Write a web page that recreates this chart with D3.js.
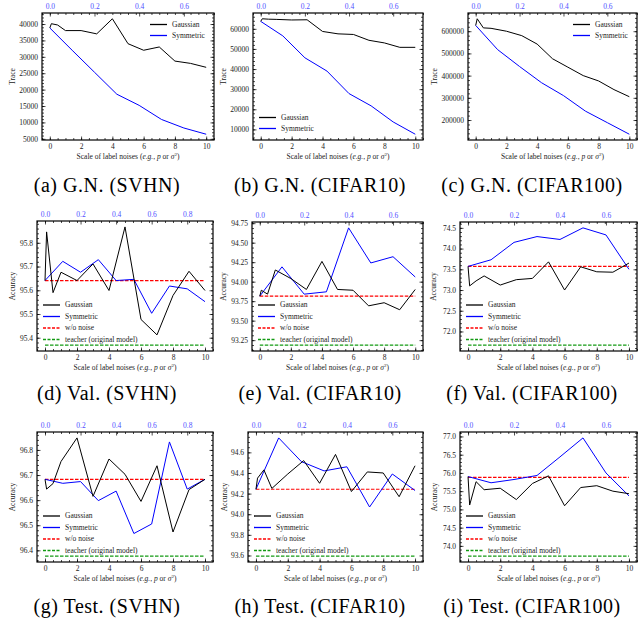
<!DOCTYPE html>
<html>
<head>
<meta charset="utf-8">
<script src="https://cdn.jsdelivr.net/npm/d3@7"></script>
<style>
body { margin: 0; background: #fff; }
svg text { font-family: "Liberation Serif", "DejaVu Serif", serif; }
</style>
</head>
<body>
<svg id="chart" width="638" height="623"></svg>
<script>
// noise scales: gaussian uses sigma^2 (bottom axis), symmetric uses p (top axis)
var gaussX = [0, 0.1, 0.5, 1, 2, 3, 4, 5, 6, 7, 8, 9, 10];
var symP7 = [0, 0.1, 0.2, 0.3, 0.4, 0.5, 0.6, 0.7];
var symP9 = [0, 0.1, 0.2, 0.3, 0.4, 0.5, 0.6, 0.7, 0.8, 0.9];

// (a)-(c) trace
var gaussA = [38800, 40100, 39700, 38000, 38000, 37000, 41600, 34000, 32000, 33000, 28700, 28000, 26800];
var symA = [38800, 32000, 25300, 18600, 15200, 10900, 8300, 6400];
var gaussB = [63700, 65000, 64800, 64700, 64400, 64500, 58700, 57500, 57200, 54300, 53000, 50800, 50800];
var symB = [63700, 56500, 45600, 39000, 27800, 21700, 13700, 7600];
var gaussC = [626000, 656000, 615000, 613000, 600000, 580000, 542000, 476000, 438000, 400000, 376000, 337000, 305000];
var symC = [626000, 517000, 441000, 368000, 310000, 240000, 188000, 136000];

// (d)-(f) validation accuracy
var gaussD = [95.641, 95.846, 95.59, 95.676, 95.641, 95.711, 95.599, 95.867, 95.477, 95.412, 95.578, 95.68, 95.599];
var symD = [95.641, 95.722, 95.676, 95.729, 95.641, 95.646, 95.503, 95.618, 95.606, 95.552];
var woD = 95.641, teacherD = 95.369;
var gaussE = [93.814, 93.89, 93.84, 94.15, 94.04, 93.90, 94.26, 93.90, 93.89, 93.69, 93.73, 93.64, 93.90];
var symE = [93.814, 94.19, 93.84, 93.87, 94.69, 94.24, 94.32, 94.06];
var woE = 93.814, teacherE = 93.186;
var gaussF = [73.57, 73.10, 73.22, 73.34, 73.12, 73.25, 73.28, 73.68, 73.0, 73.56, 73.44, 73.43, 73.65];
var symF = [73.57, 73.73, 74.15, 74.29, 74.22, 74.5, 74.33, 73.5];
var woF = 73.57, teacherF = 71.67;

// (g)-(i) test accuracy
var gaussG = [96.683, 96.644, 96.666, 96.754, 96.848, 96.615, 96.764, 96.703, 96.595, 96.737, 96.473, 96.642, 96.683];
var symG = [96.683, 96.667, 96.674, 96.598, 96.636, 96.467, 96.505, 96.832, 96.644, 96.683];
var woG = 96.683, teacherG = 96.377;
var gaussH = [94.242, 94.35, 94.43, 94.25, 94.39, 94.52, 94.30, 94.58, 94.22, 94.41, 94.40, 94.17, 94.47];
var symH = [94.242, 94.74, 94.51, 94.42, 94.46, 94.07, 94.39, 94.23];
var woH = 94.242, teacherH = 93.594;
var gaussI = [75.90, 75.12, 75.76, 75.54, 75.58, 75.27, 75.71, 75.92, 75.10, 75.60, 75.65, 75.50, 75.43];
var symI = [75.90, 75.73, 75.82, 75.93, 76.44, 76.96, 76.0, 75.37];
var woI = 75.88, teacherI = 73.72;

// tick labels
var xTicks = [0, 2, 4, 6, 8, 10];
var pTicks7 = [0, 0.2, 0.4, 0.6];
var pTicks9 = [0, 0.2, 0.4, 0.6, 0.8];
var yTicksA = [5000, 10000, 15000, 20000, 25000, 30000, 35000, 40000];
var yTicksB = [10000, 20000, 30000, 40000, 50000, 60000];
var yTicksC = [200000, 300000, 400000, 500000, 600000];
var yTicksD = [95.4, 95.5, 95.6, 95.7, 95.8];
var yTicksE = [93.25, 93.5, 93.75, 94.0, 94.25, 94.5, 94.75];
var yTicksF = [72.0, 72.5, 73.0, 73.5, 74.0, 74.5];
var yTicksG = [96.4, 96.5, 96.6, 96.7, 96.8];
var yTicksH = [93.6, 93.8, 94.0, 94.2, 94.4, 94.6];
var yTicksI = [74.0, 74.5, 75.0, 75.5, 76.0, 76.5, 77.0];

var captions = ["(a) G.N. (SVHN)", "(b) G.N. (CIFAR10)", "(c) G.N. (CIFAR100)",
                "(d) Val. (SVHN)", "(e) Val. (CIFAR10)", "(f) Val. (CIFAR100)",
                "(g) Test. (SVHN)", "(h) Test. (CIFAR10)", "(i) Test. (CIFAR100)"];

var panels = [
  {gauss: gaussA, sym: symA, p: symP7, pTicks: pTicks7, yTicks: yTicksA, fmt: "d", ylab: "Trace", minor: 1000,
   box: {l: 42, r: 214, t: 13, b: 140}, ylx: 12, leg: "ur"},
  {gauss: gaussB, sym: symB, p: symP7, pTicks: pTicks7, yTicks: yTicksB, fmt: "d", ylab: "Trace", minor: 2000,
   box: {l: 253, r: 423, t: 13, b: 140}, ylx: 223, leg: "ll"},
  {gauss: gaussC, sym: symC, p: symP7, pTicks: pTicks7, yTicks: yTicksC, fmt: "d", ylab: "Trace", minor: 20000,
   box: {l: 468, r: 637, t: 13, b: 140}, ylx: 434, leg: "ur"},
  {gauss: gaussD, sym: symD, p: symP9, pTicks: pTicks9, yTicks: yTicksD, fmt: ".1f", ylab: "Accuracy", minor: 0.02,
   wo: woD, teacher: teacherD, box: {l: 37, r: 213, t: 221, b: 351}, ylx: 12, leg: "ll"},
  {gauss: gaussE, sym: symE, p: symP7, pTicks: pTicks7, yTicks: yTicksE, fmt: ".2f", ylab: "Accuracy", minor: 0.0625,
   wo: woE, teacher: teacherE, box: {l: 252, r: 423, t: 222, b: 351}, ylx: 223, leg: "ll"},
  {gauss: gaussF, sym: symF, p: symP7, pTicks: pTicks7, yTicks: yTicksF, fmt: ".1f", ylab: "Accuracy", minor: 0.1,
   wo: woF, teacher: teacherF, box: {l: 460, r: 637, t: 222, b: 351}, ylx: 433, leg: "ll"},
  {gauss: gaussG, sym: symG, p: symP9, pTicks: pTicks9, yTicks: yTicksG, fmt: ".1f", ylab: "Accuracy", minor: 0.02,
   wo: woG, teacher: teacherG, box: {l: 37, r: 213, t: 432, b: 562}, ylx: 12, leg: "ll"},
  {gauss: gaussH, sym: symH, p: symP7, pTicks: pTicks7, yTicks: yTicksH, fmt: ".1f", ylab: "Accuracy", minor: 0.05,
   wo: woH, teacher: teacherH, box: {l: 248, r: 423, t: 432, b: 562}, ylx: 224, leg: "ll"},
  {gauss: gaussI, sym: symI, p: symP7, pTicks: pTicks7, yTicks: yTicksI, fmt: ".1f", ylab: "Accuracy", minor: 0.1,
   wo: woI, teacher: teacherI, box: {l: 460, r: 637, t: 432, b: 562}, ylx: 434, leg: "ll"}
];

var capX = [107, 320, 532];
var capY = [192, 400, 613];
var green = "#139a13";

var svg = d3.select("#chart");

function minorVals(domain, step) {
  var out = [];
  var start = Math.ceil(domain[0] / step - 1e-9);
  for (var k = start; k * step <= domain[1] + 1e-9; k++) out.push(k * step);
  return out;
}

panels.forEach(function (pn, i) {
  var bx = pn.box;
  var g = svg.append("g");

  var x = d3.scaleLinear().domain([-0.5, 10.5]).range([bx.l, bx.r]);
  var pMax = pn.p[pn.p.length - 1];
  var xp = d3.scaleLinear().domain([0, pMax]).range([x(0), x(10)]);

  var all = pn.gauss.concat(pn.sym);
  if (pn.wo !== undefined) all.push(pn.wo, pn.teacher);
  var lo = d3.min(all), hi = d3.max(all), pad = (hi - lo) * 0.05;
  var y = d3.scaleLinear().domain([lo - pad, hi + pad]).range([bx.b, bx.t]);

  // minor ticks
  var xm = minorVals(x.domain(), 0.5);
  var ym = minorVals(y.domain(), pn.minor);
  g.append("g").attr("transform", "translate(0," + bx.b + ")")
    .call(d3.axisBottom(x).tickValues(xm).tickSize(-2).tickFormat(""));
  g.append("g").attr("transform", "translate(0," + bx.t + ")")
    .call(d3.axisTop(x).tickValues(xm).tickSize(-2).tickFormat(""));
  g.append("g").attr("transform", "translate(" + bx.l + ",0)")
    .call(d3.axisLeft(y).tickValues(ym).tickSize(-2).tickFormat(""));
  g.append("g").attr("transform", "translate(" + bx.r + ",0)")
    .call(d3.axisRight(y).tickValues(ym).tickSize(-2).tickFormat(""));

  // major ticks
  g.append("g").attr("class", "ax").attr("transform", "translate(0," + bx.b + ")")
    .call(d3.axisBottom(x).tickValues(xTicks).tickSize(-3.5).tickPadding(3.5).tickFormat(d3.format("d")));
  g.append("g").attr("class", "ax top").attr("transform", "translate(0," + bx.t + ")")
    .call(d3.axisTop(xp).tickValues(pn.pTicks).tickSize(-3.5).tickPadding(4.5).tickFormat(d3.format(".1f")));
  g.append("g").attr("class", "ax").attr("transform", "translate(" + bx.l + ",0)")
    .call(d3.axisLeft(y).tickValues(pn.yTicks).tickSize(-3.5).tickPadding(4).tickFormat(d3.format(pn.fmt)));
  g.append("g").attr("transform", "translate(" + bx.r + ",0)")
    .call(d3.axisRight(y).tickValues(pn.yTicks).tickSize(-3.5).tickFormat(""));

  g.selectAll(".domain").remove();
  g.selectAll(".tick line").attr("stroke", "#000").attr("stroke-width", 0.7);
  g.selectAll(".ax text").attr("font-size", 7.5).attr("fill", "#222")
    .attr("font-family", "'Liberation Serif', 'DejaVu Serif', serif");
  g.selectAll(".top text").attr("fill", "#5050ff");

  // reference lines
  var line = d3.line().x(function (d) { return d[0]; }).y(function (d) { return d[1]; });
  if (pn.wo !== undefined) {
    g.append("path").attr("d", line([[x(0), y(pn.teacher)], [x(10), y(pn.teacher)]]))
      .attr("fill", "none").attr("stroke", green).attr("stroke-width", 1.2).attr("stroke-dasharray", "3.5,1.5");
    g.append("path").attr("d", line([[x(0), y(pn.wo)], [x(10), y(pn.wo)]]))
      .attr("fill", "none").attr("stroke", "#ff0000").attr("stroke-width", 1.2).attr("stroke-dasharray", "3.5,1.5");
  }

  // data lines
  g.append("path")
    .attr("d", line(pn.sym.map(function (v, k) { return [xp(pn.p[k]), y(v)]; })))
    .attr("fill", "none").attr("stroke", "#0000ff").attr("stroke-width", 1);
  g.append("path")
    .attr("d", line(pn.gauss.map(function (v, k) { return [x(gaussX[k]), y(v)]; })))
    .attr("fill", "none").attr("stroke", "#000").attr("stroke-width", 1);

  // frame
  g.append("rect").attr("x", bx.l).attr("y", bx.t).attr("width", bx.r - bx.l).attr("height", bx.b - bx.t)
    .attr("fill", "none").attr("stroke", "#000").attr("stroke-width", 1.2);

  // axis labels
  g.append("text").attr("x", (x(-0.5) + x(10.5)) / 2).attr("y", bx.b + 18.5)
    .attr("text-anchor", "middle").attr("font-size", 7.5).attr("fill", "#222")
    .html('Scale of label noises (<tspan font-style="italic">e.g.</tspan>, <tspan font-style="italic">p</tspan> or <tspan font-style="italic">σ</tspan><tspan font-size="5" dy="-3">2</tspan><tspan dy="3">)</tspan>');
  g.append("text").attr("transform", "translate(" + pn.ylx + "," + ((bx.t + bx.b) / 2) + ") rotate(-90)")
    .attr("text-anchor", "middle").attr("dy", "0.35em").attr("font-size", 7.5).attr("fill", "#222")
    .text(pn.ylab);

  // legend
  var items = [["Gaussian", "#000", "none"], ["Symmetric", "#0000ff", "none"]];
  if (pn.wo !== undefined) items.push(["w/o noise", "#ff0000", "3,1.5"], ["teacher (original model)", green, "3,1.5"]);
  var lx, ly0, step = items.length > 2 ? 11.5 : 11;
  if (pn.leg === "ur") { lx = bx.r - 64; ly0 = bx.t + 11.5; }
  else { lx = bx.l + 6; ly0 = bx.b - 11.5 - (items.length - 1) * step; }
  var leg = g.append("g").selectAll("g").data(items).enter().append("g")
    .attr("transform", function (d, k) { return "translate(" + lx + "," + (ly0 + k * step) + ")"; });
  leg.append("path").attr("d", "M0,0H17").attr("fill", "none")
    .style("stroke", function (d) { return d[1]; }).style("stroke-width", 1.3)
    .style("stroke-dasharray", function (d) { return d[2]; });
  leg.append("text").attr("x", 22).attr("dy", "0.33em").attr("font-size", 7.5).attr("fill", "#222")
    .text(function (d) { return d[0]; });

  // caption
  svg.append("text").attr("x", capX[i % 3]).attr("y", capY[Math.floor(i / 3)])
    .attr("text-anchor", "middle").attr("font-size", 20).attr("letter-spacing", 0.5).attr("fill", "#000")
    .text(captions[i]);
});
</script>
</body>
</html>
